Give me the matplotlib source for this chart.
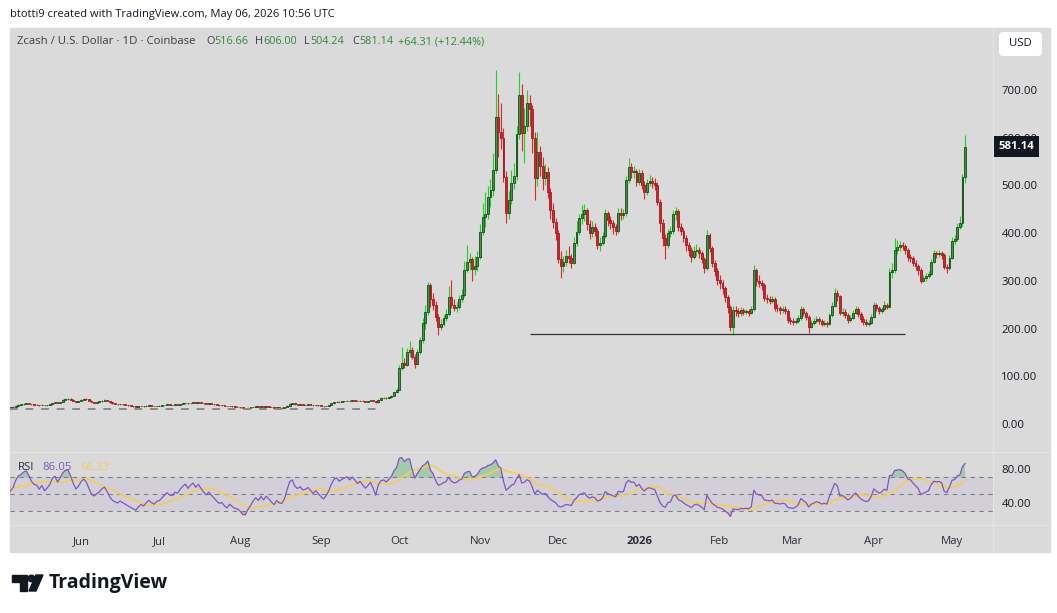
import numpy as np
import pandas as pd
import matplotlib.pyplot as plt
from matplotlib.patches import Rectangle, FancyBboxPatch, Polygon, Circle

plt.rcParams['font.family'] = ['Open Sans', 'DejaVu Sans']

# closes of the weeks before the visible range (only used to warm up the RSI)
pre_closes = [33.1, 32.4, 31.8, 32.6, 33.9, 33.2, 34.5, 35.8, 35.1, 34.2,
              35.6, 36.9, 36.0, 35.2, 34.6, 35.3, 36.1, 34.8, 34.0, 34.5]

# daily candles: (close, high, low), open = previous close
first_open = 34.5
may25 = [(35.2, 35.8, 34.1), (36.1, 36.9, 34.9), (38.4, 39.0, 35.8), (40.2, 41.3, 38.0), (41.0, 42.1, 39.6),
         (42.3, 43.0, 40.5), (43.1, 44.6, 41.9), (42.2, 43.6, 41.5), (41.0, 42.8, 40.2), (40.3, 41.5, 39.4),
         (40.1, 41.0, 39.3), (39.2, 40.6, 38.5), (40.4, 41.2, 38.9), (39.1, 40.7, 38.6), (40.0, 40.8, 38.7),
         (41.2, 41.9, 39.6), (44.1, 45.0, 40.8), (45.3, 46.4, 43.5), (43.8, 45.7, 43.0), (46.2, 47.1, 43.4),
         (50.1, 51.5, 45.8), (52.4, 54.0, 49.6), (53.0, 54.8, 51.3), (51.2, 53.5, 50.4), (48.7, 51.9, 47.8),
         (46.3, 49.0, 45.5), (47.9, 48.6, 45.8)]
jun25 = [(51.0, 52.3, 47.5), (53.1, 54.6, 50.2), (52.0, 53.8, 51.1), (49.2, 52.4, 48.5), (46.1, 49.6, 45.3),
         (45.0, 46.8, 44.2), (46.2, 46.9, 44.6), (47.3, 48.1, 45.7), (49.1, 50.0, 46.8), (50.2, 51.4, 48.6),
         (48.1, 50.6, 47.5), (45.2, 48.5, 44.6), (43.1, 45.7, 42.5), (42.0, 43.6, 41.2), (41.2, 42.5, 40.6),
         (42.1, 42.8, 40.8), (41.0, 42.4, 40.3), (40.1, 41.3, 39.5), (39.0, 40.4, 38.4), (38.1, 39.2, 37.3),
         (37.0, 38.3, 36.2), (36.1, 37.2, 35.5), (37.2, 37.8, 35.8), (38.0, 38.7, 36.9), (37.1, 38.4, 36.6),
         (38.2, 38.8, 36.9), (39.1, 39.9, 37.8), (38.0, 39.4, 37.5), (37.2, 38.3, 36.7), (38.1, 38.6, 36.9)]
jul25 = [(38.3, 39.1, 37.6), (39.2, 39.8, 37.9), (40.1, 40.7, 38.8), (41.0, 41.6, 39.7), (40.2, 41.4, 39.6),
         (40.0, 40.8, 39.3), (41.1, 41.7, 39.6), (40.8, 41.8, 40.2), (42.1, 42.6, 40.5), (43.2, 44.0, 41.8),
         (44.1, 45.0, 42.9), (43.0, 44.5, 42.6), (44.2, 44.8, 42.7), (45.1, 46.0, 43.8), (44.0, 45.5, 43.5),
         (45.2, 45.9, 43.6), (44.1, 45.6, 43.7), (43.0, 44.5, 42.5), (42.1, 43.3, 41.5), (43.0, 43.6, 41.8),
         (42.0, 43.4, 41.6), (41.1, 42.5, 40.6), (40.0, 41.4, 39.5), (39.1, 40.3, 38.6), (39.3, 39.9, 38.5),
         (38.0, 39.6, 37.6), (37.1, 38.4, 36.7), (38.0, 38.5, 36.8), (37.0, 38.3, 36.5), (36.2, 37.4, 35.6),
         (36.0, 36.8, 35.3)]
aug25 = [(35.0, 36.3, 34.4), (33.2, 35.3, 32.6), (33.0, 33.8, 32.2), (34.1, 34.6, 32.7), (35.0, 35.5, 33.8),
         (36.1, 36.6, 34.7), (37.0, 37.8, 35.8), (36.1, 37.4, 35.6), (37.2, 37.7, 35.8), (36.0, 37.5, 35.5),
         (37.1, 37.6, 35.7), (36.2, 37.4, 35.8), (35.1, 36.5, 34.6), (34.0, 35.4, 33.5), (35.1, 35.6, 33.7),
         (34.2, 35.4, 33.8), (34.0, 34.7, 33.4), (35.2, 35.7, 33.8), (38.1, 38.9, 34.9), (42.0, 43.2, 37.8),
         (43.1, 44.2, 41.3), (41.0, 43.6, 40.4), (40.2, 41.5, 39.6), (41.1, 41.7, 39.8), (40.0, 41.5, 39.5),
         (40.2, 40.8, 39.4), (41.0, 41.6, 39.7), (40.1, 41.4, 39.6), (39.0, 40.5, 38.5), (40.1, 40.6, 38.7),
         (39.0, 40.3, 38.5)]
sep25 = [(38.0, 39.4, 37.5), (37.1, 38.4, 36.6), (38.2, 38.7, 36.8), (40.0, 40.6, 37.9), (43.1, 43.8, 39.6),
         (46.0, 46.9, 42.7), (47.1, 47.8, 45.3), (46.0, 47.6, 45.5), (47.2, 47.8, 45.7), (48.1, 48.9, 46.6),
         (49.0, 50.2, 47.6), (48.1, 49.5, 47.5), (50.0, 50.7, 47.8), (49.1, 50.6, 48.5), (48.0, 49.6, 47.4),
         (49.2, 49.8, 47.7), (48.1, 49.5, 47.6), (47.0, 48.6, 46.4), (48.2, 48.8, 46.7), (50.0, 50.9, 47.8),
         (48.0, 50.4, 47.4), (45.1, 48.3, 44.3), (51.0, 52.3, 44.8), (54.2, 55.6, 50.4), (55.0, 56.8, 53.1),
         (54.1, 56.2, 53.2), (56.2, 57.4, 53.6), (59.0, 60.5, 55.4), (66.1, 68.0, 58.3), (72.0, 75.5, 65.2)]
oct25 = [(118.0, 124.6, 70.5), (128.3, 160.8, 112.4), (124.1, 138.5, 118.0), (150.2, 158.3, 121.6),
         (155.1, 174.0, 141.2), (140.3, 162.4, 136.5), (126.2, 145.8, 118.3), (150.1, 156.2, 124.4),
         (176.3, 181.5, 146.8), (211.0, 222.4, 168.7), (235.2, 248.6, 198.3), (291.0, 297.4, 228.5),
         (262.3, 296.0, 246.1), (250.1, 275.2, 238.6), (224.0, 258.3, 215.7), (203.2, 231.4, 186.5),
         (210.1, 220.5, 196.8), (222.3, 228.6, 205.4), (230.0, 241.2, 215.8), (266.2, 289.4, 226.5),
         (250.0, 301.5, 243.2), (243.1, 262.8, 236.6), (246.0, 255.4, 234.2), (262.2, 270.1, 240.8),
         (270.1, 282.6, 255.3), (323.0, 341.8, 266.4), (340.2, 374.5, 318.6), (345.1, 358.2, 322.8),
         (325.0, 350.6, 300.7), (330.2, 352.4, 311.5), (350.1, 362.3, 320.6)]
nov25 = [(402.3, 418.6, 346.2), (434.0, 462.5, 395.8), (440.2, 486.3, 412.4), (476.1, 498.6, 430.5),
         (490.3, 512.8, 455.2), (532.0, 568.4, 478.6), (643.2, 742.0, 525.4), (612.1, 690.6, 560.3),
         (600.2, 672.4, 575.8), (518.0, 620.6, 508.2), (442.3, 530.4, 421.5), (470.1, 488.2, 430.6),
         (505.2, 532.8, 461.4), (520.1, 546.6, 492.3), (608.3, 624.5, 510.8), (690.2, 737.4, 596.5),
         (610.0, 712.6, 572.4), (625.3, 661.6, 547.2), (673.1, 700.2, 614.6), (660.0, 688.5, 625.2),
         (600.3, 668.4, 568.6), (515.1, 612.4, 470.2), (570.2, 612.7, 498.4), (540.1, 582.3, 520.5),
         (515.0, 560.2, 490.6), (528.2, 545.8, 500.4), (486.0, 538.6, 472.8), (449.2, 495.4, 430.5),
         (423.1, 462.3, 410.8), (400.0, 432.6, 385.2)]
dec25 = [(345.2, 405.8, 336.4), (330.1, 362.4, 306.3), (340.2, 352.6, 318.5), (352.0, 365.3, 331.2),
         (348.1, 372.8, 338.4), (338.2, 356.5, 326.8), (380.0, 392.6, 334.5), (402.1, 425.5, 372.4),
         (432.3, 440.6, 395.8), (440.1, 458.6, 418.5), (449.2, 460.8, 425.4), (420.0, 452.6, 406.3),
         (400.3, 428.5, 388.2), (412.1, 425.8, 392.6), (405.0, 420.4, 394.5), (375.2, 410.6, 366.8),
         (380.1, 392.4, 362.5), (395.0, 402.8, 374.2), (442.3, 451.6, 390.5), (428.1, 446.2, 415.5),
         (420.2, 436.4, 409.6), (412.0, 426.8, 398.2), (405.3, 418.5, 395.6), (443.1, 452.4, 400.8),
         (438.0, 452.6, 428.4), (442.2, 450.4, 430.5), (511.0, 520.6, 436.8), (539.2, 556.8, 505.4),
         (528.1, 546.2, 516.5), (530.0, 541.6, 515.2), (507.3, 534.6, 498.5)]
jan26 = [(525.1, 533.6, 500.2), (500.2, 531.4, 492.5), (486.0, 508.6, 470.8), (505.2, 512.4, 480.6),
         (510.1, 522.8, 498.4), (505.0, 518.2, 495.6), (500.3, 515.6, 490.2), (465.1, 506.4, 458.3),
         (421.2, 470.5, 402.8), (390.0, 428.6, 372.4), (375.1, 398.2, 346.5), (400.2, 408.4, 368.6),
         (405.0, 415.8, 392.4), (440.3, 449.2, 398.6), (447.1, 455.8, 426.5), (413.0, 450.4, 405.2),
         (405.2, 420.6, 396.8), (390.1, 410.2, 380.5), (375.0, 396.4, 362.8), (365.2, 381.6, 352.4),
         (350.1, 370.8, 340.2), (362.0, 372.4, 345.6), (365.3, 378.2, 352.8), (358.0, 371.4, 348.5),
         (345.2, 362.8, 336.4), (327.1, 350.6, 316.2), (396.0, 405.8, 322.4), (368.2, 400.4, 360.6),
         (337.0, 372.5, 328.2), (320.1, 342.8, 310.4), (302.0, 326.5, 290.6)]
feb26 = [(295.2, 312.4, 282.6), (285.0, 301.6, 272.4), (266.1, 290.2, 255.8), (245.3, 270.6, 232.4),
         (204.0, 248.5, 195.2), (239.1, 246.8, 186.4), (236.0, 247.2, 226.8), (232.2, 242.6, 224.5),
         (238.0, 244.2, 226.8), (235.1, 243.4, 228.6), (237.2, 241.8, 229.5), (233.0, 240.6, 225.8),
         (240.1, 248.2, 230.4), (323.2, 332.4, 236.5), (300.0, 326.8, 288.4), (295.2, 311.6, 286.5),
         (292.0, 301.4, 280.2), (264.1, 296.5, 258.3), (262.0, 272.8, 254.6), (258.2, 268.4, 250.5),
         (262.1, 268.6, 252.8), (243.0, 265.2, 236.4), (242.1, 250.8, 235.6), (238.0, 247.4, 230.2),
         (241.2, 246.5, 232.6), (237.1, 246.8, 230.5), (218.0, 240.2, 212.4), (215.2, 224.6, 208.8)]
mar26 = [(213.0, 221.4, 206.8), (216.2, 222.5, 208.6), (222.1, 228.4, 212.5), (241.0, 247.6, 218.4),
         (232.2, 244.8, 226.5), (225.0, 236.4, 218.6), (204.1, 228.2, 191.5), (212.0, 218.6, 200.4),
         (215.3, 222.8, 206.5), (219.0, 226.2, 210.8), (216.1, 224.4, 209.6), (210.2, 220.5, 204.8),
         (212.0, 218.4, 205.6), (209.1, 216.8, 203.4), (228.0, 233.6, 206.8), (248.2, 256.4, 224.6),
         (275.0, 285.6, 244.8), (268.1, 280.2, 258.6), (233.2, 270.8, 228.4), (235.0, 243.6, 226.8),
         (228.1, 240.2, 222.4), (218.0, 232.6, 212.5), (222.2, 229.4, 214.6), (233.0, 239.8, 219.5),
         (241.1, 247.6, 229.8), (230.0, 244.2, 224.6), (220.2, 233.8, 214.5), (214.0, 225.6, 208.2),
         (210.1, 219.4, 204.6), (212.0, 217.8, 205.4), (224.2, 229.6, 209.8)]
apr26 = [(249.0, 256.4, 221.6), (242.1, 253.8, 236.5), (236.0, 246.4, 230.2), (240.2, 244.6, 231.8),
         (249.1, 256.8, 236.4), (246.0, 254.2, 240.6), (319.2, 326.5, 243.8), (322.0, 336.8, 305.4),
         (365.1, 389.2, 316.6), (371.0, 385.4, 356.8), (375.2, 382.6, 362.4), (372.0, 381.8, 364.5),
         (365.1, 376.4, 356.8), (350.0, 369.2, 342.6), (347.2, 356.4, 338.5), (338.0, 351.6, 330.2),
         (330.1, 342.8, 322.4), (322.0, 335.6, 312.8), (300.2, 326.4, 296.5), (305.0, 311.8, 298.2),
         (310.1, 316.4, 300.6), (315.0, 320.8, 306.4), (340.2, 346.5, 312.4), (358.0, 364.2, 336.8),
         (356.1, 362.4, 348.5), (358.0, 364.8, 350.2), (355.2, 362.6, 346.4), (330.0, 358.4, 324.6),
         (326.1, 336.2, 316.8), (348.0, 354.6, 322.4)]
may26 = [(384.2, 392.6, 345.8), (388.0, 396.4, 376.2), (413.1, 420.5, 383.6), (421.0, 436.8, 408.4),
         (516.66, 524.8, 415.2), (581.14, 606.0, 504.24)]

# drawn levels (price, first day, last day)
old_level = (31.0, '2025-05-05', '2025-09-22')
new_level = (189.0, '2025-11-20', '2026-04-13')

price_ticks = [0, 100, 200, 300, 400, 500, 600, 700]
rsi_ticks = [80, 40]
month_labels = ['Jun', 'Jul', 'Aug', 'Sep', 'Oct', 'Nov', 'Dec', '2026', 'Feb', 'Mar', 'Apr', 'May']

rows = may25 + jun25 + jul25 + aug25 + sep25 + oct25 + nov25 + dec25 + jan26 + feb26 + mar26 + apr26 + may26
closes = np.array([r[0] for r in rows])
highs = np.array([r[1] for r in rows])
lows = np.array([r[2] for r in rows])
opens = np.concatenate([[first_open], closes[:-1]])
dates = pd.date_range('2025-05-05', periods=len(closes), freq='D')
x = np.arange(len(closes))

# RSI 14 (Wilder) and its 14 SMA, warmed up on the earlier closes
all_closes = pd.Series(pre_closes + list(closes))
delta = all_closes.diff().fillna(0)
gain = delta.clip(lower=0).ewm(alpha=1 / 14, adjust=False).mean()
loss = (-delta.clip(upper=0)).ewm(alpha=1 / 14, adjust=False).mean()
rsi_all = (100 - 100 / (1 + gain / loss.replace(0, np.nan))).fillna(50)
rsi_ma_all = rsi_all.rolling(14, min_periods=1).mean()
rsi = rsi_all.values[len(pre_closes):]
rsi_ma = rsi_ma_all.values[len(pre_closes):]

W, H = 1057, 613
fig = plt.figure(figsize=(W / 100, H / 100), dpi=100)
fig.patch.set_facecolor('white')

bg = fig.add_axes([0, 0, 1, 1], zorder=0)
bg.set_xlim(0, W)
bg.set_ylim(H, 0)
bg.axis('off')
bg.add_patch(Rectangle((10, 28), 1040, 524, color='#dadada'))
for yy in (452, 525):
    bg.plot([10, 1050], [yy, yy], color='#e4e4e4', lw=1)
bg.plot([993, 993], [28, 552], color='#e4e4e4', lw=1)

dark = '#131722'
fs = 8.2
bg.text(10, 15, 'btotti9 created with TradingView.com, May 06, 2026 10:56 UTC',
        fontsize=8, color=dark, va='center')
green_txt = '#2e8b3a'
bg.text(17, 42, 'Zcash / U.S. Dollar · 1D · Coinbase', fontsize=fs, color='#3a3d45', va='center')
for xp, lab, val in [(206, 'O', '516.66'), (255, 'H', '606.00'), (304, 'L', '504.24'), (352, 'C', '581.14')]:
    t = bg.text(xp, 42, lab, fontsize=7.8, color='#3a3d45', va='center')
    bg.annotate(val, xy=(1, 0.5), xycoords=t, xytext=(0.2, 0), textcoords='offset points',
                fontsize=7.8, color=green_txt, va='center')
bg.text(398, 42, '+64.31 (+12.44%)', fontsize=7.8, color=green_txt, va='center')

# USD box
bg.add_patch(FancyBboxPatch((999, 32), 43, 24, boxstyle='round,pad=0,rounding_size=4',
                            facecolor='white', edgecolor='none'))
bg.text(1020.5, 44, 'USD', fontsize=fs, color=dark, ha='center', va='center')

# TradingView logo
bg.add_patch(Polygon([(12, 575), (27, 575), (27, 591), (20, 591), (20, 582), (12, 582)], color=dark))
bg.add_patch(Circle((31.5, 578.5), 3.3, color=dark))
bg.add_patch(Polygon([(36, 575), (43, 575), (36, 591), (29, 591)], color=dark))
bg.text(49, 583, 'TradingView', fontsize=14, fontweight='bold', color=dark, va='center')

# price pane
ax = fig.add_axes([10 / W, 1 - 452 / H, 983 / W, 424 / H], zorder=2)
ax.set_facecolor('none')
up = closes >= opens
body_lo = np.minimum(opens, closes)
body_h = np.maximum(np.abs(closes - opens), 0.4)
ax.vlines(x[up], lows[up], highs[up], color='#1fd41f', lw=0.8, zorder=2)
ax.vlines(x[~up], lows[~up], highs[~up], color='#e8242b', lw=0.8, zorder=2)
ax.bar(x[up], body_h[up], bottom=body_lo[up], width=0.72, color='#3c9a40',
       edgecolor='#174a1a', linewidth=0.6, zorder=3)
ax.bar(x[~up], body_h[~up], bottom=body_lo[~up], width=0.72, color='#d2252b',
       edgecolor='#a01b20', linewidth=0.6, zorder=3)

lv, d0, d1 = old_level
ax.hlines(lv, dates.get_loc(pd.Timestamp(d0)) - 0.3, dates.get_loc(pd.Timestamp(d1)),
          color='#8a8a8a', lw=1.4, linestyles=(0, (4, 4)), zorder=4)
lv, d0, d1 = new_level
ax.hlines(lv, dates.get_loc(pd.Timestamp(d0)), dates.get_loc(pd.Timestamp(d1)),
          color='#333333', lw=0.9, zorder=4)

ax.set_xlim(-0.23, 376.7)
ax.set_ylim(-58.7, 829.9)
ax.yaxis.tick_right()
ax.set_yticks(price_ticks)
ax.set_yticklabels([f'{v:.2f}' for v in price_ticks])
ax.tick_params(axis='y', length=0, pad=6, labelsize=fs, labelcolor=dark)
ax.set_xticks([])
for s in ax.spines.values():
    s.set_visible(False)

ax.annotate(f'{closes[-1]:.2f}', xy=(1, closes[-1]), xycoords=('axes fraction', 'data'),
            xytext=(4, 0), textcoords='offset points', fontsize=fs, color='white',
            fontweight='bold', va='center', ha='left',
            bbox=dict(boxstyle='square,pad=0.42', facecolor=dark, edgecolor='none'), zorder=6)

# RSI pane
rx = fig.add_axes([10 / W, 1 - 525 / H, 983 / W, 73 / H], zorder=2)
rx.set_facecolor('none')
rx.axhspan(30, 70, color='#7e57c2', alpha=0.08, lw=0)
for lvl in (70, 50, 30):
    rx.axhline(lvl, color='#7d7f86', lw=0.8, linestyle=(0, (4, 4)))
rx.fill_between(x, 70, rsi, where=rsi > 70, interpolate=True, color='#3fae5a', alpha=0.35, lw=0)
rx.fill_between(x, 30, rsi, where=rsi < 30, interpolate=True, color='#e0525a', alpha=0.35, lw=0)
rx.plot(x, rsi_ma, color='#f3cd63', lw=1.6, alpha=0.85)
rx.plot(x, rsi, color='#7e57c2', lw=0.9)
rx.set_xlim(-0.23, 376.7)
rx.set_ylim(14.1, 100)
rx.yaxis.tick_right()
rx.set_yticks(rsi_ticks)
rx.set_yticklabels([f'{v:.2f}' for v in rsi_ticks])
rx.tick_params(axis='y', length=0, pad=6, labelsize=fs, labelcolor=dark)

month_starts = [i for i, d in enumerate(dates) if d.day == 1]
rx.set_xticks(month_starts)
rx.set_xticklabels(month_labels)
rx.tick_params(axis='x', length=0, pad=8, labelsize=fs, labelcolor='#2a2e39')
for lab in rx.get_xticklabels():
    if lab.get_text() == '2026':
        lab.set_fontweight('bold')
for s in rx.spines.values():
    s.set_visible(False)

bg.text(18, 467.5, 'RSI', fontsize=fs, color='#2a2e39', va='center')
bg.text(42, 467.5, '86.05', fontsize=fs, color='#7e57c2', va='center')
bg.text(80, 467.5, '66.33', fontsize=fs, color='#f3cd63', va='center')

fig.savefig('out.png', dpi=100, facecolor='white')
